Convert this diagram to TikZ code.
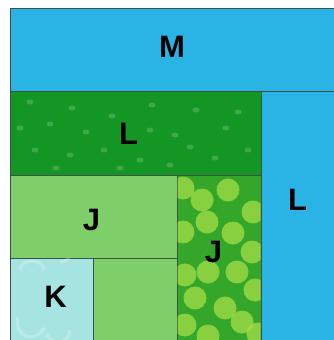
\documentclass[tikz,border=0pt]{standalone}
\usepackage{fontspec}
\setmainfont{Liberation Sans}
\usetikzlibrary{positioning}

\definecolor{skyblue}{RGB}{42,180,230}
\definecolor{darkleaf}{RGB}{20,150,36}
\definecolor{paleleaf}{RGB}{126,206,106}
\definecolor{aquapale}{RGB}{166,228,226}
\definecolor{dotbase}{RGB}{52,166,42}
\definecolor{dotlime}{RGB}{172,226,72}
\definecolor{seam}{RGB}{60,80,70}

\begin{document}
\begin{tikzpicture}[
    x=1pt, y=-1pt,
    % --- estilos de piezas ---
    piece/.style = {draw=seam, line width=0.7pt},
    lbl/.style   = {font=\fontsize{31}{31}\selectfont\bfseries, text=black,
                    inner sep=0pt, text height=22.2pt, text depth=0pt},
    spot/.style  = {fill=white, opacity=0.18},
    bubble/.style= {fill=dotlime, opacity=0.7},
    swirl/.style = {draw=white, opacity=0.25, line width=3pt}
]
\useasboundingbox (0,0) rectangle (334,340);
\fill[white] (0,0) rectangle (334,340);

% ===================== PIEZAS =====================
\filldraw[piece, fill=skyblue]  (10,8)   rectangle (337,91);   % M
\filldraw[piece, fill=darkleaf] (10,91)  rectangle (261,175);  % L verde
\filldraw[piece, fill=skyblue]  (261,91) rectangle (337,343);  % L azul
\filldraw[piece, fill=paleleaf] (10,175) rectangle (177,258);  % J claro
\filldraw[piece, fill=aquapale] (10,258) rectangle (93,343);   % K
\filldraw[piece, fill=paleleaf] (93,258) rectangle (177,343);
\filldraw[piece, fill=dotbase]  (177,175) rectangle (261,343); % J lunares

% --- lunares de la pieza J ---
\begin{scope}
    \clip (177.5,175.5) rectangle (260.5,343);
    \foreach \px/\py in {183/188, 202/200, 228/190, 253/212, 233/233, 207/222,
                         183/232, 252/252, 208/272, 185/275, 237/272, 255/290,
                         195/298, 225/308, 242/322, 185/325, 208/336, 258/334}
        \fill[bubble] (\px,\py) circle (11.5);
\end{scope}

% --- motas en la L verde ---
\foreach \px/\py in {30/102, 72/108, 112/116, 152/105, 196/110, 238/112,
                     20/128, 50/124, 86/132, 150/130, 175/135, 226/128,
                     35/150, 70/155, 104/150, 140/160, 190/147, 215/158,
                     56/168, 120/168, 170/165, 248/150}
    \fill[spot] (\px,\py) ellipse (3.5 and 2.5);

% --- remolinos en K ---
\begin{scope}
    \clip (10.5,258.5) rectangle (92.5,340);
    \draw[swirl] (20,270) arc (180:360:12 and 9);
    \draw[swirl] (60,262) arc (90:-90:14 and 18);
    \draw[swirl] (18,318) arc (200:20:14);
    \draw[swirl] (70,330) arc (0:160:12);
\end{scope}

% ===================== ETIQUETAS =====================
\node[lbl] (mtop)   at (172,46.5)    {M};
\node[lbl] (lgreen) at (128.5,133.5) {L};
\node[lbl] (lblue)  at (297.5,199)   {L};
\node[lbl] (jpale)  at (91.5,219)    {J};
\node[lbl] (jdots)  at (213.5,251.5) {J};
\node[lbl] (kaqua)  at (55.5,296)    {K};

\end{tikzpicture}
\end{document}
